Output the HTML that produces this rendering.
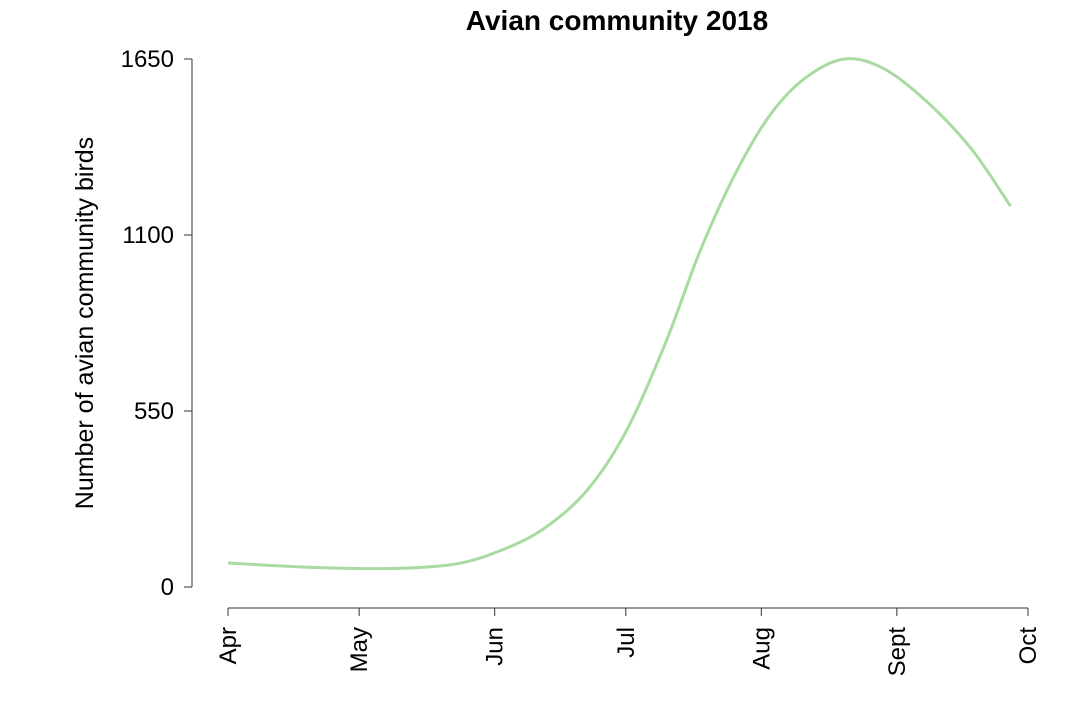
<!DOCTYPE html>
<html><head><meta charset="utf-8"><style>
body{margin:0;background:#fff}
svg{display:block;font-family:"Liberation Sans",Arial,sans-serif}
</style></head><body>
<svg id="chart" width="1080" height="705" viewBox="0 0 1080 705">
<text x="617" y="30" text-anchor="middle" font-size="28" font-weight="bold">Avian community 2018</text>
<text transform="translate(93,323) rotate(-90)" text-anchor="middle" font-size="25">Number of avian community birds</text>
<g id="axes"></g>
<path id="series" fill="none" stroke="#a8dba0" stroke-width="3"/>
</svg>
<script>
const monthLabels=["Apr","May","Jun","Jul","Aug","Sept","Oct"];
const monthDays=[0,30,61,91,122,153,183];
const yTicks=[0,550,1100,1650];
const days=[0,20,38,52,62,72,82,91,100,108,116,124,132,141,150,160,170,179];
const counts=[75,61,58,72,112,180,300,485,760,1050,1290,1475,1590,1650,1620,1515,1370,1190];
const X=d=>228+d*(800/183);
const Y=v=>587-v*(528/1650);
const NS="http://www.w3.org/2000/svg";
const ax=document.getElementById('axes');
function mk(t,a,txt){const e=document.createElementNS(NS,t);for(const k in a)e.setAttribute(k,a[k]);if(txt!==undefined)e.textContent=txt;ax.appendChild(e);return e;}
let e=mk('line',{x1:192,y1:Y(1650),x2:192,y2:Y(0),stroke:'#333','stroke-width':1});


yTicks.forEach(v=>{
 let t=mk('line',{x1:184,x2:192,y1:Y(v),y2:Y(v),stroke:'#333'});
 
 
 let l=mk('text',{x:174,y:Y(v)+8,'text-anchor':'end','font-size':24},String(v));
 
 
});
e=mk('line',{x1:X(0),y1:608,x2:X(183),y2:608,stroke:'#333'});


monthDays.forEach((d,i)=>{
 let t=mk('line',{x1:X(d),x2:X(d),y1:608,y2:616,stroke:'#333'});
 
 
 let l=mk('text',{transform:`translate(${X(d)+8},627) rotate(-90)`,'text-anchor':'end','font-size':24},monthLabels[i]);
 
 
});
const p=days.map((d,i)=>[X(d),Y(counts[i])]);
let s=`M${p[0][0]},${p[0][1]}`;
for(let i=0;i<p.length-1;i++){
 const p0=p[i-1]||p[i],p1=p[i],p2=p[i+1],p3=p[i+2]||p2;
 const c1=[p1[0]+(p2[0]-p0[0])/6,p1[1]+(p2[1]-p0[1])/6];
 const c2=[p2[0]-(p3[0]-p1[0])/6,p2[1]-(p3[1]-p1[1])/6];
 s+=`C${c1[0]},${c1[1]} ${c2[0]},${c2[1]} ${p2[0]},${p2[1]}`;
}
document.getElementById('series').setAttribute('d',s);
</script>
</body></html>
